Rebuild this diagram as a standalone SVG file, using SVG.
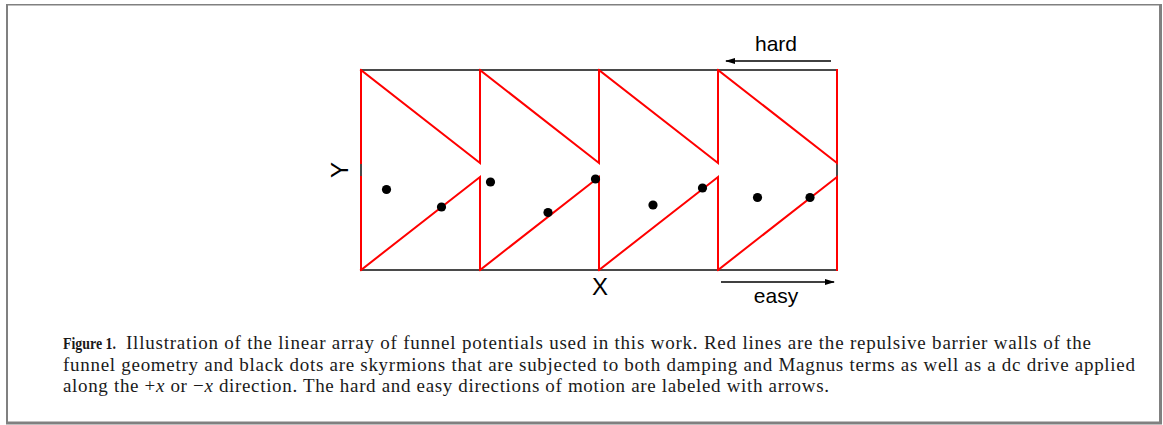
<svg xmlns="http://www.w3.org/2000/svg" width="1163" height="425" viewBox="0 0 1163 425">
<style>
.frame{fill:none;stroke:#808080}
.box{stroke:#4a4a4a;stroke-width:2;fill:none}
.wall{stroke:#ff0000;stroke-width:2;fill:none;stroke-linecap:square}
.dot{fill:#000}
.lbl{font-family:"Liberation Sans",Arial,sans-serif;fill:#000}
.cap{font-family:"Liberation Serif","Times New Roman",serif;font-size:19px;fill:#1a1a1a}
.arr{stroke:#000;stroke-width:1.5;fill:none}
</style>
<defs>
<marker id="ah" viewBox="0 0 10 6" refX="9" refY="3" markerWidth="10" markerHeight="6" markerUnits="userSpaceOnUse" orient="auto">
<path d="M0,0 L10,3 L0,6 Z" fill="#000"/>
</marker>
</defs>
<rect fill="#fff" x="0" y="0" width="1163" height="425"/>
<g id="frame">
<line class="frame" x1="7" y1="5" x2="7" y2="423" stroke-width="2"/>
<line class="frame" x1="6" y1="4.75" x2="1161" y2="4.75" stroke-width="1.5"/>
<line class="frame" x1="1160.5" y1="4" x2="1160.5" y2="424" stroke-width="3"/>
<line class="frame" x1="6" y1="423" x2="1162" y2="423" stroke-width="3"/>
</g>
<g id="box">
<rect class="box" x="361" y="70" width="476" height="200"/>
</g>
<g id="walls">
<path class="wall" d="M361,70 V163 M361,177 V270"/>
<path class="wall" d="M361,70 L480,163 V70 M361,270 L480,177 V270"/>
<path class="wall" d="M480,70 L599,163 V70 M480,270 L599,177 V270"/>
<path class="wall" d="M599,70 L718,163 V70 M599,270 L718,177 V270"/>
<path class="wall" d="M718,70 L837,163 V70 M718,270 L837,177 V270"/>
</g>
<g id="skyrmions">
<circle class="dot" cx="386.5" cy="189.5" r="4.6"/>
<circle class="dot" cx="441.5" cy="207" r="4.6"/>
<circle class="dot" cx="490.5" cy="182" r="4.6"/>
<circle class="dot" cx="548" cy="212.5" r="4.6"/>
<circle class="dot" cx="595.5" cy="179" r="4.6"/>
<circle class="dot" cx="653" cy="205" r="4.6"/>
<circle class="dot" cx="702.5" cy="188" r="4.6"/>
<circle class="dot" cx="757.5" cy="197.5" r="4.6"/>
<circle class="dot" cx="810" cy="197.5" r="4.6"/>
</g>
<g id="axis-labels">
<text class="lbl" x="600" y="295" font-size="24" text-anchor="middle">X</text>
<text class="lbl" x="0" y="0" font-size="24" text-anchor="middle" transform="translate(348,170) rotate(-90)">Y</text>
</g>
<g id="connectors">
<line class="arr" x1="831" y1="61" x2="726" y2="61" marker-end="url(#ah)"/>
<line class="arr" x1="721" y1="282" x2="834" y2="282" marker-end="url(#ah)"/>
</g>
<g id="direction-labels">
<text class="lbl" x="776" y="51" font-size="21" text-anchor="middle">hard</text>
<text class="lbl" x="776" y="303" font-size="21" text-anchor="middle">easy</text>
</g>
<g id="caption">
<text class="cap" y="349"><tspan x="63" font-weight="bold" font-size="17" textLength="53" lengthAdjust="spacingAndGlyphs">Figure 1.</tspan><tspan x="126" textLength="965">Illustration of the linear array of funnel potentials used in this work. Red lines are the repulsive barrier walls of the</tspan></text>
<text class="cap" x="63" y="370.5" textLength="1072">funnel geometry and black dots are skyrmions that are subjected to both damping and Magnus terms as well as a dc drive applied</text>
<text class="cap" x="63" y="392" textLength="766">along the +<tspan font-style="italic">x</tspan> or −<tspan font-style="italic">x</tspan> direction. The hard and easy directions of motion are labeled with arrows.</text>
</g>
</svg>
